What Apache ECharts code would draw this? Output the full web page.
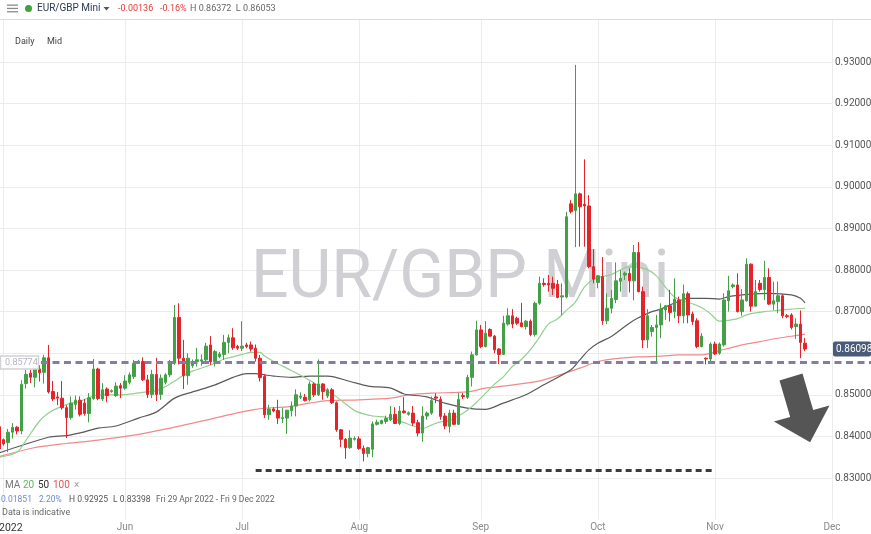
<!DOCTYPE html>
<html><head><meta charset="utf-8">
<script src="https://cdn.jsdelivr.net/npm/echarts@6/dist/echarts.min.js"></script>
<style>html,body{margin:0;padding:0;background:#fff}#c{width:871px;height:534px}</style>
</head><body><div id="c"></div>
<script>
// trading-day categories (Sun–Fri sessions)
const dates = [
'2022-04-29','2022-05-01','2022-05-02','2022-05-03','2022-05-04','2022-05-05','2022-05-06','2022-05-08','2022-05-09','2022-05-10','2022-05-11','2022-05-12','2022-05-13','2022-05-15','2022-05-16','2022-05-17','2022-05-18','2022-05-19','2022-05-20','2022-05-22','2022-05-23','2022-05-24','2022-05-25','2022-05-26','2022-05-27','2022-05-29','2022-05-30','2022-05-31',
'2022-06-01','2022-06-02','2022-06-03','2022-06-05','2022-06-06','2022-06-07','2022-06-08','2022-06-09','2022-06-10','2022-06-12','2022-06-13','2022-06-14','2022-06-15','2022-06-16','2022-06-17','2022-06-19','2022-06-20','2022-06-21','2022-06-22','2022-06-23','2022-06-24','2022-06-26','2022-06-27','2022-06-28','2022-06-29','2022-06-30',
'2022-07-01','2022-07-03','2022-07-04','2022-07-05','2022-07-06','2022-07-07','2022-07-08','2022-07-10','2022-07-11','2022-07-12','2022-07-13','2022-07-14','2022-07-15','2022-07-17','2022-07-18','2022-07-19','2022-07-20','2022-07-21','2022-07-22','2022-07-24','2022-07-25','2022-07-26','2022-07-27','2022-07-28','2022-07-29','2022-07-31',
'2022-08-01','2022-08-02','2022-08-03','2022-08-04','2022-08-05','2022-08-07','2022-08-08','2022-08-09','2022-08-10','2022-08-11','2022-08-12','2022-08-14','2022-08-15','2022-08-16','2022-08-17','2022-08-18','2022-08-19','2022-08-21','2022-08-22','2022-08-23','2022-08-24','2022-08-25','2022-08-26','2022-08-28','2022-08-29','2022-08-30','2022-08-31',
'2022-09-01','2022-09-02','2022-09-04','2022-09-05','2022-09-06','2022-09-07','2022-09-08','2022-09-09','2022-09-11','2022-09-12','2022-09-13','2022-09-14','2022-09-15','2022-09-16','2022-09-18','2022-09-19','2022-09-20','2022-09-21','2022-09-22','2022-09-23','2022-09-25','2022-09-26','2022-09-27','2022-09-28','2022-09-29','2022-09-30',
'2022-10-02','2022-10-03','2022-10-04','2022-10-05','2022-10-06','2022-10-07','2022-10-09','2022-10-10','2022-10-11','2022-10-12','2022-10-13','2022-10-14','2022-10-16','2022-10-17','2022-10-18','2022-10-19','2022-10-20','2022-10-21','2022-10-23','2022-10-24','2022-10-25','2022-10-26','2022-10-27','2022-10-28','2022-10-30','2022-10-31',
'2022-11-01','2022-11-02','2022-11-03','2022-11-04','2022-11-06','2022-11-07','2022-11-08','2022-11-09','2022-11-10','2022-11-11','2022-11-13','2022-11-14','2022-11-15','2022-11-16','2022-11-17','2022-11-18','2022-11-20','2022-11-21','2022-11-22','2022-11-23','2022-11-24','2022-11-25','2022-11-27','2022-11-28','2022-11-29','2022-11-30',
'2022-12-01'
];

// [open, high, low, close] aligned with dates[0..]
const ohlc = [
[0.8423,0.8430,0.8362,0.8370],[0.8392,0.8395,0.8378,0.8382],[0.8385,0.8418,0.8362,0.8410],[0.8410,0.8432,0.8395,0.8422],[0.8422,0.8425,0.8405,0.8413],
[0.8413,0.8535,0.8405,0.8525],[0.8527,0.8560,0.8515,0.8549],[0.8552,0.8560,0.8528,0.8542],[0.8542,0.8574,0.8518,0.8562],[0.8562,0.8571,0.8532,0.8553],
[0.8554,0.8596,0.8527,0.8589],[0.8589,0.8620,0.8503,0.8507],[0.8508,0.8533,0.8485,0.8490],[0.8495,0.8507,0.8475,0.8492],[0.8492,0.8533,0.8464,0.8469],
[0.8469,0.8475,0.8396,0.8445],[0.8445,0.8496,0.8440,0.8480],[0.8477,0.8498,0.8464,0.8487],[0.8487,0.8496,0.8448,0.8453],[0.8480,0.8490,0.8450,0.8455],
[0.8455,0.8504,0.8434,0.8493],[0.8491,0.8586,0.8488,0.8562],[0.8562,0.8565,0.8487,0.8491],[0.8490,0.8528,0.8485,0.8512],[0.8514,0.8518,0.8482,0.8498],
[0.8508,0.8513,0.8505,0.8510],[0.8498,0.8530,0.8495,0.8521],[0.8522,0.8528,0.8492,0.8516],[0.8516,0.8547,0.8512,0.8533],[0.8530,0.8554,0.8525,0.8548],
[0.8544,0.8584,0.8538,0.8576],[0.8576,0.8584,0.8574,0.8581],[0.8580,0.8590,0.8533,0.8536],[0.8536,0.8548,0.8492,0.8501],[0.8501,0.8560,0.8492,0.8549],
[0.8549,0.8589,0.8485,0.8501],[0.8501,0.8549,0.8488,0.8540],[0.8530,0.8552,0.8525,0.8548],[0.8548,0.8584,0.8543,0.8577],[0.8576,0.8716,0.8572,0.8686],
[0.8686,0.8720,0.8573,0.8588],[0.8588,0.8632,0.8514,0.8546],[0.8546,0.8600,0.8524,0.8588],[0.8570,0.8585,0.8565,0.8580],[0.8580,0.8613,0.8568,0.8584],
[0.8581,0.8597,0.8570,0.8584],[0.8584,0.8625,0.8578,0.8617],[0.8620,0.8641,0.8572,0.8580],[0.8580,0.8608,0.8568,0.8604],[0.8592,0.8603,0.8588,0.8598],
[0.8597,0.8644,0.8584,0.8626],[0.8626,0.8645,0.8600,0.8637],[0.8637,0.8660,0.8608,0.8613],[0.8616,0.8620,0.8608,0.8612],[0.8612,0.8677,0.8605,0.8617],
[0.8620,0.8625,0.8612,0.8616],[0.8620,0.8628,0.8604,0.8610],[0.8612,0.8621,0.8580,0.8588],[0.8588,0.8596,0.8532,0.8541],[0.8544,0.8550,0.8444,0.8452],
[0.8452,0.8476,0.8440,0.8466],[0.8466,0.8470,0.8458,0.8461],[0.8462,0.8488,0.8430,0.8444],[0.8443,0.8468,0.8432,0.8445],[0.8444,0.8464,0.8406,0.8463],
[0.8462,0.8484,0.8448,0.8473],[0.8473,0.8513,0.8448,0.8500],[0.8494,0.8506,0.8490,0.8497],[0.8494,0.8502,0.8484,0.8486],[0.8488,0.8532,0.8484,0.8526],
[0.8526,0.8530,0.8495,0.8500],[0.8500,0.8585,0.8497,0.8526],[0.8526,0.8528,0.8488,0.8508],[0.8497,0.8516,0.8492,0.8512],[0.8512,0.8516,0.8478,0.8481],
[0.8481,0.8484,0.8411,0.8416],[0.8416,0.8418,0.8374,0.8393],[0.8393,0.8396,0.8346,0.8373],[0.8373,0.8415,0.8370,0.8396],[0.8393,0.8400,0.8390,0.8395],
[0.8394,0.8400,0.8368,0.8371],[0.8371,0.8378,0.8340,0.8359],[0.8359,0.8375,0.8350,0.8373],[0.8369,0.8436,0.8350,0.8430],[0.8429,0.8440,0.8426,0.8434],
[0.8431,0.8440,0.8429,0.8438],[0.8436,0.8450,0.8430,0.8443],[0.8440,0.8473,0.8437,0.8453],[0.8453,0.8470,0.8430,0.8431],[0.8431,0.8473,0.8427,0.8461],
[0.8461,0.8494,0.8455,0.8457],[0.8453,0.8460,0.8450,0.8457],[0.8456,0.8473,0.8425,0.8432],[0.8433,0.8440,0.8400,0.8408],[0.8408,0.8472,0.8387,0.8449],
[0.8449,0.8460,0.8440,0.8456],[0.8456,0.8496,0.8452,0.8486],[0.8495,0.8504,0.8480,0.8492],[0.8489,0.8496,0.8440,0.8448],[0.8449,0.8456,0.8417,0.8425],
[0.8424,0.8464,0.8409,0.8456],[0.8456,0.8464,0.8427,0.8429],[0.8429,0.8504,0.8427,0.8489],[0.8498,0.8504,0.8490,0.8496],[0.8494,0.8548,0.8490,0.8542],
[0.8542,0.8604,0.8520,0.8596],[0.8596,0.8678,0.8594,0.8656],[0.8656,0.8668,0.8612,0.8616],[0.8616,0.8677,0.8614,0.8648],[0.8657,0.8660,0.8640,0.8641],
[0.8641,0.8644,0.8600,0.8608],[0.8610,0.8612,0.8574,0.8597],[0.8597,0.8690,0.8596,0.8672],[0.8670,0.8708,0.8666,0.8690],[0.8690,0.8706,0.8660,0.8670],
[0.8684,0.8688,0.8668,0.8672],[0.8673,0.8721,0.8662,0.8664],[0.8664,0.8680,0.8657,0.8677],[0.8677,0.8681,0.8641,0.8645],[0.8645,0.8724,0.8640,0.8720],
[0.8720,0.8784,0.8716,0.8768],[0.8768,0.8780,0.8760,0.8765],[0.8768,0.8788,0.8748,0.8764],[0.8768,0.8784,0.8740,0.8756],[0.8766,0.8776,0.8732,0.8734],
[0.8735,0.8768,0.8692,0.8738],[0.8735,0.8940,0.8732,0.8928],[0.8959,0.8968,0.8936,0.8940],[0.8943,0.9293,0.8855,0.8983],[0.8983,0.8986,0.8856,0.8952],
[0.8958,0.9066,0.8856,0.8954],[0.8954,0.8980,0.8804,0.8808],[0.8808,0.8850,0.8768,0.8778],[0.8770,0.8788,0.8756,0.8786],[0.8784,0.8831,0.8668,0.8678],
[0.8678,0.8744,0.8670,0.8708],[0.8708,0.8752,0.8696,0.8732],[0.8729,0.8818,0.8720,0.8774],[0.8773,0.8800,0.8748,0.8780],[0.8788,0.8796,0.8776,0.8792],
[0.8792,0.8804,0.8746,0.8774],[0.8774,0.8860,0.8727,0.8842],[0.8842,0.8867,0.8746,0.8748],[0.8748,0.8760,0.8612,0.8632],[0.8632,0.8706,0.8612,0.8690],
[0.8652,0.8668,0.8640,0.8662],[0.8662,0.8692,0.8580,0.8668],[0.8668,0.8720,0.8636,0.8706],[0.8704,0.8716,0.8680,0.8714],[0.8714,0.8752,0.8676,0.8698],
[0.8700,0.8780,0.8684,0.8730],[0.8728,0.8736,0.8672,0.8690],[0.8690,0.8765,0.8672,0.8743],[0.8743,0.8748,0.8672,0.8692],[0.8694,0.8700,0.8668,0.8676],
[0.8678,0.8684,0.8612,0.8616],[0.8616,0.8648,0.8614,0.8641],[0.8588,0.8590,0.8573,0.8586],[0.8586,0.8626,0.8576,0.8622],[0.8622,0.8628,0.8596,0.8598],
[0.8600,0.8626,0.8596,0.8622],[0.8620,0.8744,0.8616,0.8728],[0.8726,0.8786,0.8700,0.8750],[0.8760,0.8768,0.8756,0.8764],[0.8764,0.8792,0.8698,0.8700],
[0.8700,0.8754,0.8690,0.8728],[0.8726,0.8828,0.8724,0.8814],[0.8814,0.8816,0.8700,0.8713],[0.8713,0.8776,0.8712,0.8748],[0.8768,0.8776,0.8748,0.8753],
[0.8753,0.8822,0.8728,0.8782],[0.8782,0.8804,0.8716,0.8718],[0.8718,0.8772,0.8704,0.8726],[0.8724,0.8772,0.8696,0.8738],[0.8738,0.8742,0.8684,0.8690],
[0.8690,0.8694,0.8684,0.8688],[0.8692,0.8696,0.8657,0.8662],[0.8664,0.8684,0.8634,0.8670],[0.8670,0.8703,0.8588,0.8626],[0.8624,0.8637,0.8605,0.8610]
];

// moving averages
const ma20 = [
['2022-04-29',0.8350],['2022-05-04',0.8362],['2022-05-06',0.8391],['2022-05-10',0.8437],['2022-05-12',0.8456],['2022-05-15',0.8468],['2022-05-18',0.8480],['2022-05-20',0.8484],['2022-05-23',0.8493],['2022-05-25',0.8500],['2022-05-31',0.8500],
['2022-06-03',0.8503],['2022-06-07',0.8507],['2022-06-09',0.8510],['2022-06-12',0.8520],['2022-06-14',0.8533],['2022-06-16',0.8547],['2022-06-19',0.8557],['2022-06-22',0.8568],['2022-06-24',0.8576],['2022-06-27',0.8586],['2022-06-29',0.8591],
['2022-07-01',0.8597],['2022-07-04',0.8602],['2022-07-06',0.8602],['2022-07-07',0.8593],['2022-07-10',0.8580],['2022-07-12',0.8569],['2022-07-14',0.8558],['2022-07-18',0.8541],['2022-07-21',0.8522],['2022-07-24',0.8508],['2022-07-26',0.8495],['2022-07-28',0.8478],['2022-07-31',0.8462],
['2022-08-02',0.8454],['2022-08-04',0.8449],['2022-08-08',0.8446],['2022-08-10',0.8441],['2022-08-12',0.8433],['2022-08-15',0.8425],['2022-08-17',0.8419],['2022-08-19',0.8427],['2022-08-22',0.8435],['2022-08-24',0.8438],['2022-08-26',0.8449],['2022-08-29',0.8463],['2022-08-31',0.8481],
['2022-09-02',0.8503],['2022-09-05',0.8525],['2022-09-07',0.8543],['2022-09-09',0.8568],['2022-09-12',0.8585],['2022-09-14',0.8608],['2022-09-16',0.8638],['2022-09-19',0.8670],['2022-09-21',0.8682],['2022-09-23',0.8703],['2022-09-26',0.8723],['2022-09-28',0.8759],['2022-09-30',0.8778],
['2022-10-03',0.8784],['2022-10-05',0.8789],['2022-10-07',0.8800],['2022-10-10',0.8808],['2022-10-12',0.8806],['2022-10-14',0.8801],['2022-10-17',0.8786],['2022-10-19',0.8759],['2022-10-21',0.8735],['2022-10-24',0.8725],['2022-10-26',0.8719],['2022-10-28',0.8710],['2022-10-31',0.8695],
['2022-11-02',0.8677],['2022-11-04',0.8679],['2022-11-07',0.8683],['2022-11-09',0.8692],['2022-11-11',0.8697],['2022-11-14',0.8700],['2022-11-16',0.8702],['2022-11-18',0.8704],['2022-11-21',0.8706],['2022-11-24',0.8708]
];
const ma50 = [
['2022-04-29',0.8360],['2022-05-05',0.8378],['2022-05-12',0.8398],['2022-05-17',0.8402],['2022-05-22',0.8411],['2022-05-25',0.8420],['2022-05-30',0.8425],
['2022-06-05',0.8444],['2022-06-09',0.8459],['2022-06-14',0.8492],['2022-06-19',0.8507],['2022-06-24',0.8524],['2022-06-29',0.8542],
['2022-07-03',0.8551],['2022-07-05',0.8551],['2022-07-07',0.8548],['2022-07-10',0.8545],['2022-07-14',0.8542],['2022-07-19',0.8545],['2022-07-24',0.8545],['2022-07-29',0.8532],
['2022-08-03',0.8521],['2022-08-09',0.8516],['2022-08-12',0.8502],['2022-08-18',0.8495],['2022-08-23',0.8480],['2022-08-29',0.8468],
['2022-09-02',0.8465],['2022-09-07',0.8480],['2022-09-13',0.8500],['2022-09-18',0.8524],['2022-09-25',0.8560],['2022-09-27',0.8584],['2022-09-29',0.8608],
['2022-10-02',0.8624],['2022-10-05',0.8640],['2022-10-07',0.8656],['2022-10-10',0.8672],['2022-10-12',0.8685],['2022-10-16',0.8700],['2022-10-18',0.8706],['2022-10-20',0.8716],['2022-10-23',0.8725],['2022-10-25',0.8732],['2022-10-30',0.8732],
['2022-11-02',0.8730],['2022-11-04',0.8736],['2022-11-10',0.8742],['2022-11-15',0.8744],['2022-11-21',0.8740],['2022-11-23',0.8732],['2022-11-24',0.8721]
];
const ma100 = [
['2022-04-29',0.8351],['2022-05-08',0.8371],['2022-05-17',0.8383],['2022-05-25',0.8391],['2022-06-03',0.8403],['2022-06-13',0.8420],['2022-06-22',0.8439],
['2022-07-01',0.8459],['2022-07-07',0.8468],['2022-07-13',0.8471],['2022-07-19',0.8480],['2022-07-24',0.8486],['2022-08-01',0.8488],['2022-08-09',0.8492],['2022-08-14',0.8500],['2022-08-19',0.8504],['2022-08-29',0.8507],
['2022-09-02',0.8516],['2022-09-07',0.8521],['2022-09-13',0.8528],['2022-09-18',0.8536],['2022-09-27',0.8564],['2022-10-02',0.8580],['2022-10-07',0.8588],['2022-10-12',0.8591],['2022-10-18',0.8593],['2022-10-23',0.8596],['2022-10-28',0.8596],['2022-10-31',0.8600],
['2022-11-02',0.8606],['2022-11-08',0.8620],['2022-11-13',0.8628],['2022-11-17',0.8636],['2022-11-23',0.8644],['2022-11-24',0.8646]
];

const monthLabels = ['Jan','Feb','Mar','Apr','May','Jun','Jul','Aug','Sep','Oct','Nov','Dec'];
const yearLabel = '2022';
const supportLevel = 0.85774;
const lowLevel = 0.8319, lowStart = '2022-07-05', lowEnd = '2022-11-01';
const lastPrice = 0.86098;

const UP = '#43a047', DOWN = '#e3242b';
const FONT = 'Roboto';
const isMonthStart = i => i === 0 || dates[i].slice(5,7) !== dates[i-1].slice(5,7);

const chart = echarts.init(document.getElementById('c'), null, {renderer:'canvas'});
chart.setOption({
  animation: false,
  backgroundColor: '#ffffff',
  textStyle: {fontFamily: FONT},
  grid: {left: -1, right: 39, top: 20.4, bottom: 14.4, containLabel: false, outerBoundsMode: 'none'},
  xAxis: {
    type: 'category', data: dates, boundaryGap: false,
    axisLine: {show: false}, axisTick: {show: false},
    axisLabel: {
      interval: (i) => isMonthStart(i), margin: 3, color: '#8a8a8a', fontSize: 10, fontFamily: FONT,
      alignMinLabel: 'left', showMinLabel: true, hideOverlap: false,
      formatter: (v, i) => i === 0 ? '{y|' + yearLabel + '}' : monthLabels[+v.slice(5,7) - 1],
      rich: {y: {color: '#333', fontSize: 10.5, fontFamily: FONT}}
    },
    splitLine: {show: true, interval: (i) => i > 0 && isMonthStart(i), lineStyle: {color: '#ececec', width: 1}}
  },
  yAxis: {
    type: 'value', position: 'right', min: 0.82, max: 0.94, interval: 0.01, scale: true,
    axisLine: {show: false}, axisTick: {show: false},
    axisLabel: {margin: 3, color: '#555', fontSize: 10, fontFamily: FONT,
      formatter: v => (v < 0.825 || v > 0.935) ? '' : v.toFixed(5)},
    splitLine: {show: true, showMinLine: false, showMaxLine: false, lineStyle: {color: '#ececec', width: 1}}
  },
  series: [
    {
      type: 'line', name: 'MA100', data: ma100, showSymbol: false, smooth: 0.3, z: 3,
      lineStyle: {color: '#f08a8a', width: 1.2}, silent: true
    },
    {
      type: 'line', name: 'MA50', data: ma50, showSymbol: false, smooth: 0.3, z: 3,
      lineStyle: {color: '#5a5a5a', width: 1.2}, silent: true
    },
    {
      type: 'line', name: 'MA20', data: ma20, showSymbol: false, smooth: 0.3, z: 3,
      lineStyle: {color: '#92d18e', width: 1.2}, silent: true
    },
    {
      type: 'candlestick', name: 'EUR/GBP', z: 4,
      data: ohlc.map(r => [r[0], r[3], r[2], r[1]]),
      barWidth: 3,
      itemStyle: {color: UP, color0: DOWN, borderColor: UP, borderColor0: DOWN, borderWidth: 1},
      markLine: {
        silent: true, symbol: ['none','none'], label: {show: false},
        lineStyle: {color: '#3c3c3c', width: 3, type: [6, 4]},
        data: [[{coord: [lowStart, lowLevel]}, {coord: [lowEnd, lowLevel]}]]
      }
    }
  ]
});

const ySup = chart.convertToPixel({yAxisIndex: 0}, supportLevel);
const yLast = chart.convertToPixel({yAxisIndex: 0}, lastPrice);

const txt = (x, y, s, color, size) => ({
  type: 'text', x: x, y: y, z: 100,
  style: {text: s, fill: color, font: 'normal ' + size + 'px ' + FONT, textVerticalAlign: 'middle', verticalAlign: 'middle', textAlign: 'left', align: 'left'}
});

chart.setOption({
  graphic: [
    // watermark
    {type: 'text', x: 251, y: 280, z: 1, silent: true,
     style: {text: 'EUR/GBP Mini', fill: '#cfcfd4', font: 'normal 66px ' + FONT, verticalAlign: 'middle', textVerticalAlign: 'middle', align: 'left'}},
    // header
    {type: 'line', z: 100, shape: {x1: 0, y1: 19.5, x2: 871, y2: 19.5}, style: {stroke: '#dcdcdc', lineWidth: 1}},
    {type: 'rect', z: 100, shape: {x: 7, y: 4.5, width: 11, height: 1.3}, style: {fill: '#8a8a8a'}},
    {type: 'rect', z: 100, shape: {x: 7, y: 7.8, width: 11, height: 1.3}, style: {fill: '#8a8a8a'}},
    {type: 'rect', z: 100, shape: {x: 7, y: 11.1, width: 11, height: 1.3}, style: {fill: '#8a8a8a'}},
    {type: 'circle', z: 100, shape: {cx: 28.5, cy: 8.5, r: 3.5}, style: {fill: '#3aa53a'}},
    txt(37, 8.5, 'EUR/GBP Mini', '#2b3a55', 10),
    {type: 'polygon', z: 100, shape: {points: [[103.5, 7], [109.5, 7], [106.5, 10.5]]}, style: {fill: '#555'}},
    txt(118, 8.5, '-0.00136', '#e53935', 9),
    txt(160, 8.5, '-0.16%', '#e53935', 9),
    txt(190, 8.5, 'H 0.86372  L 0.86053', '#666', 9),
    txt(15, 42, 'Daily', '#444', 9),
    txt(47, 42, 'Mid', '#444', 9),
    // legend / info bottom-left
    txt(5, 485, 'MA', '#777', 10),
    txt(23, 485, '20', '#5cb85c', 10),
    txt(38, 485, '50', '#333', 10),
    txt(53, 485, '100', '#e05050', 10),
    txt(74, 485, '×', '#999', 10),
    txt(1, 499.5, '0.01851', '#6c8ad0', 8.5),
    txt(39, 499.5, '2.20%', '#6c8ad0', 8.5),
    txt(69, 499.5, 'H 0.92925', '#555', 8.5),
    txt(113, 499.5, 'L 0.83398', '#555', 8.5),
    txt(156, 499.5, 'Fri 29 Apr 2022 - Fri 9 Dec 2022', '#666', 8.5),
    txt(2, 512.5, 'Data is indicative', '#666', 9),
    // support line
    {type: 'line', z: 50, silent: true, shape: {x1: 41, y1: ySup, x2: 871, y2: ySup},
     style: {stroke: '#847ca3', lineWidth: 3, lineDash: [7, 4.5]}},
    {type: 'rect', z: 51, shape: {x: 0.5, y: ySup - 6.5, width: 38, height: 13},
     style: {fill: '#fff', stroke: '#d2d2d2', lineWidth: 1.5}},
    txt(5, ySup, '0.85774', '#b3b3c3', 9),
    // last price box
    {type: 'rect', z: 60, shape: {x: 833, y: yLast - 7.5, width: 38, height: 15, r: 2}, style: {fill: '#4a5a78'}},
    txt(836, yLast, '0.86098', '#ffffff', 10),
    // arrow annotation
    {type: 'polygon', z: 70, silent: true,
     shape: {points: [[779.5, 380.4], [802.5, 373.6], [813.2, 410.1], [829.5, 405.4], [810.1, 442.3], [773.9, 421.6], [790.2, 416.9]]},
     style: {fill: '#555555'}}
  ]
});
</script></body></html>
